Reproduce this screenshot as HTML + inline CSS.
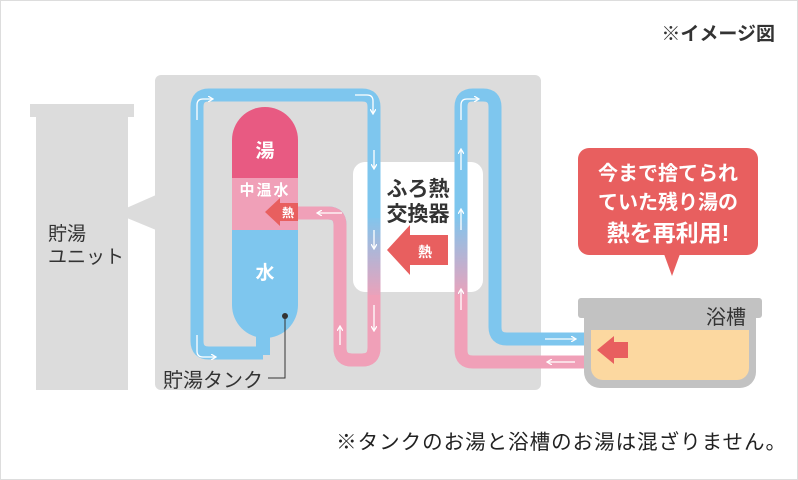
<!DOCTYPE html>
<html><head><meta charset="utf-8"><style>
html,body{margin:0;padding:0;background:#fff}
svg{display:block}
text{font-family:"Liberation Sans","Noto Sans CJK JP",sans-serif}
</style></head><body>
<svg width="798" height="480" viewBox="0 0 798 480" xmlns="http://www.w3.org/2000/svg">
<defs>
<linearGradient id="g1" gradientUnits="userSpaceOnUse" x1="0" y1="215" x2="0" y2="300">
<stop offset="0" stop-color="#7ec6ee"/><stop offset="1" stop-color="#f0a0b8"/></linearGradient>
<marker id="ah" markerWidth="6" markerHeight="6" refX="4" refY="3" orient="auto" markerUnits="userSpaceOnUse"><path d="M0,0 L5,3 L0,6" fill="none" stroke="#fff" stroke-width="1.3"/></marker>
</defs>
<rect x="0.5" y="0.5" width="797" height="479" fill="#fff" stroke="#ddd"/>
<text x="775" y="40" font-size="19" font-weight="bold" fill="#333" text-anchor="end">※イメージ図</text>
<rect x="30" y="104" width="104" height="13" fill="#dcdcdc"/>
<rect x="36" y="112" width="92" height="278" fill="#dcdcdc"/>
<text x="48" y="240" font-size="19" fill="#333">貯湯</text>
<text x="48" y="263" font-size="19" fill="#333">ユニット</text>
<rect x="155" y="75" width="386" height="315" rx="6" fill="#dcdcdc"/>
<polygon points="156,195 115,213 156,230" fill="#dcdcdc"/>
<rect x="353" y="162" width="130" height="130" rx="12" fill="#fff"/>
<text x="418" y="196" font-size="21" font-weight="bold" fill="#333" text-anchor="middle">ふろ熱</text>
<text x="418" y="221" font-size="21" font-weight="bold" fill="#333" text-anchor="middle">交換器</text>
<rect x="256" y="320" width="14" height="35" fill="#7ec6ee"/>
<path d="M232,140 A33,33 0 0 1 298,140 V178 H232 Z" fill="#e85a82"/>
<rect x="232" y="178" width="66" height="52" fill="#f0a0b8"/>
<path d="M232,230 H298 V305 A33,33 0 0 1 232,305 Z" fill="#7ec6ee"/>
<text x="265" y="157" font-size="19" font-weight="bold" fill="#fff" text-anchor="middle">湯</text>
<text x="265" y="195" font-size="15" font-weight="bold" fill="#fff" text-anchor="middle" letter-spacing="2">中温水</text>
<text x="265" y="279" font-size="19" font-weight="bold" fill="#fff" text-anchor="middle">水</text>
<g fill="none" stroke-width="13">
<path d="M263,353 H209 Q197,353 197,341 V107 Q197,95 209,95 H362 Q374,95 374,107 V220" stroke="#7ec6ee"/>
<path d="M374,218 V348 Q374,360 362,360 H352 Q340,360 340,348 V225 Q340,213 328,213 H298" stroke="url(#g1)"/>
<path d="M374,295 V348 Q374,360 362,360 H352 Q340,360 340,348 V225 Q340,213 328,213 H298" stroke="#f0a0b8"/>
<path d="M585,339 H507 Q495,339 495,327 V107 Q495,95 483,95 H473 Q461,95 461,107 V220" stroke="#7ec6ee"/>
<path d="M461,218 V300" stroke="url(#g1)"/>
<path d="M461,295 V350 Q461,362 473,362 H585" stroke="#f0a0b8"/>
</g>
<g stroke="#fff" stroke-width="1.3" fill="none" marker-end="url(#ah)">
<path d="M197,120 V105 Q197,99 203,99 H212"/><path d="M355,95 H367 Q373,95 373,101 V113"/>
<path d="M374,150 V168"/><path d="M374,230 V248"/><path d="M374,305 V330"/>
<path d="M197,335 V351 Q197,357 203,357 H215"/><path d="M340,345 V327"/><path d="M342,213 H318"/>
<path d="M461,120 V105 Q461,99 467,99 H478"/><path d="M461,170 V150"/><path d="M461,230 V210"/><path d="M461,310 V290"/>
<path d="M545,339 H575"/><path d="M575,362 H548"/>
</g>
<polygon points="448,235 410,235 410,225 387,250 410,275 410,265 448,265" fill="#e85f5f"/>
<text x="425" y="257" font-size="14" font-weight="bold" fill="#fff" text-anchor="middle">熱</text>
<polygon points="298,203 280,203 280,198 265,212 280,226 280,221 298,221" fill="#e85f5f"/>
<text x="288" y="217" font-size="12" font-weight="bold" fill="#fff" text-anchor="middle">熱</text>
<text x="163" y="387" font-size="20" fill="#333">貯湯タンク</text>
<path d="M268,378 H285 V316" fill="none" stroke="#333" stroke-width="1"/>
<circle cx="285" cy="316" r="3" fill="#333"/>
<rect x="578" y="148" width="180" height="107" rx="11" fill="#e85f5f"/>
<polygon points="664,254 680,254 672,276" fill="#e85f5f"/>
<g fill="#fff" text-anchor="middle" font-weight="bold"><text x="668" y="180" font-size="20">今まで捨てられ</text><text x="668" y="209" font-size="20">ていた残り湯の</text><text x="668" y="241" font-size="23">熱を再利用!</text></g>
<rect x="578" y="298" width="184" height="20" rx="3" fill="#c2c2c2"/>
<path d="M584,316 H756 V372 A16,16 0 0 1 740,388 H600 A16,16 0 0 1 584,372 Z" fill="#c2c2c2"/>
<path d="M591,330 H749 V368 A12,12 0 0 1 737,380 H603 A12,12 0 0 1 591,368 Z" fill="#fcd8a0"/>
<text x="746" y="324" font-size="20" fill="#333" text-anchor="end">浴槽</text>
<polygon points="628,342 614,342 614,336 597,350 614,364 614,358 628,358" fill="#e85f5f"/>
<text x="787" y="449" font-size="20.5" fill="#222" text-anchor="end" letter-spacing="1">※タンクのお湯と浴槽のお湯は混ざりません。</text>
</svg>
</body></html>
